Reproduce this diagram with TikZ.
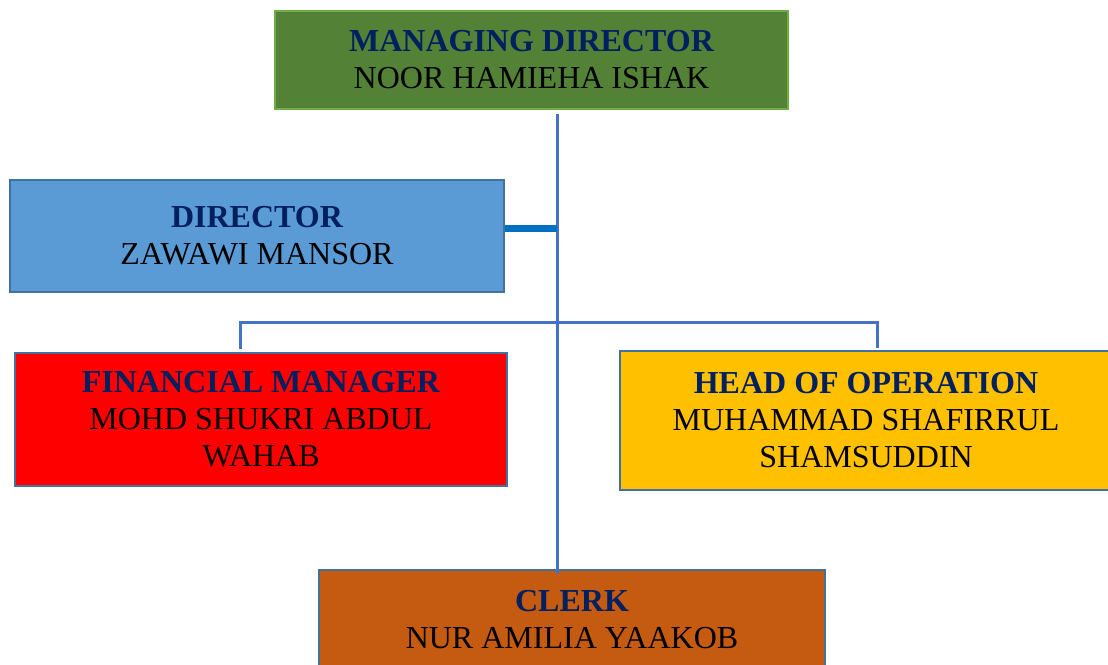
\documentclass[tikz,border=0pt]{standalone}
\usepackage{fontspec}
\setmainfont{Liberation Serif}
\definecolor{mdgreen}{HTML}{538135}
\definecolor{mdedge}{HTML}{70AD47}
\definecolor{dirblue}{HTML}{5B9BD5}
\definecolor{boxedge}{HTML}{41719C}
\definecolor{finred}{HTML}{FF0000}
\definecolor{hopgold}{HTML}{FFC000}
\definecolor{clerkbrown}{HTML}{C55A11}
\definecolor{titlenavy}{HTML}{002060}
\definecolor{connblue}{HTML}{4472C4}
\definecolor{dirconn}{HTML}{0070C0}
\newcommand{\postitle}[1]{{\bfseries\color{titlenavy}#1}}
\begin{document}
\begin{tikzpicture}[x=1pt,y=-1pt,
  orgbox/.style={draw=boxedge, line width=2.2pt, rectangle, align=center, inner sep=0pt,
    font=\fontsize{32}{37}\selectfont, text=black},
  conn/.style={draw=connblue, line width=3pt},
  thickconn/.style={draw=dirconn, line width=7pt}]
\useasboundingbox (0,0) rectangle (1108,664);
\clip (0,0) rectangle (1108,664);
\node[orgbox, fill=mdgreen, draw=mdedge, minimum width=513pt, minimum height=98pt] (md) at (531.5,60)
  {\postitle{MANAGING DIRECTOR}\\NOOR HAMIEHA ISHAK};
\node[orgbox, fill=dirblue, minimum width=494pt, minimum height=112pt] (dir) at (257,236)
  {\postitle{DIRECTOR}\\ZAWAWI MANSOR};
\node[orgbox, fill=finred, minimum width=492pt, minimum height=133pt] (fin) at (261,419.5)
  {\postitle{FINANCIAL MANAGER}\\MOHD SHUKRI ABDUL\\WAHAB};
\node[orgbox, fill=hopgold, minimum width=492pt, minimum height=139pt] (hop) at (866,420.5)
  {\postitle{HEAD OF OPERATION}\\MUHAMMAD SHAFIRRUL\\SHAMSUDDIN};
\node[orgbox, fill=clerkbrown, minimum width=506pt, minimum height=100pt] (clerk) at (572,620)
  {\postitle{CLERK}\\NUR AMILIA YAAKOB};
\coordinate (spine) at (557,0);
\coordinate (fx) at (240,0);
\coordinate (hx) at (877,0);
\coordinate (bary) at (0,322);
\draw[conn] ([yshift=-4pt]md.south -| spine) -- ([yshift=-5pt]clerk.north -| spine);
\draw[thickconn] ([yshift=8pt]dir.east) -- ([yshift=8pt]dir.east -| spine);
\draw[conn] ([yshift=3pt]fin.north -| fx) -- (bary -| fx) -- (bary -| hx) -- ([yshift=2pt]hop.north -| hx);
\end{tikzpicture}
\end{document}
